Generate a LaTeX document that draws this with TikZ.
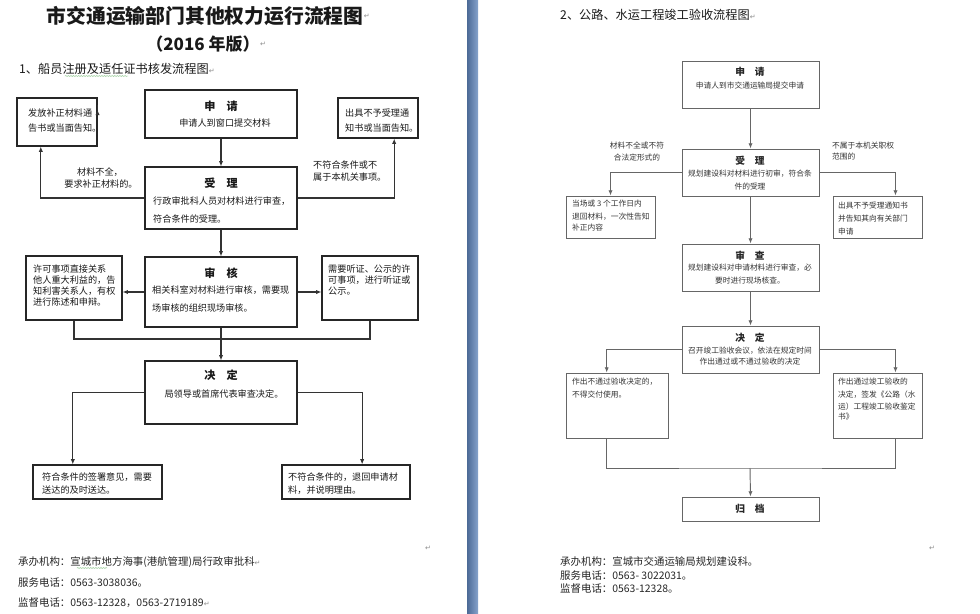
\documentclass[tikz,border=0pt]{standalone}
\usepackage{fontspec}
\setmainfont{Noto Sans CJK SC}
\newfontfamily\symf{DejaVu Sans}
\usetikzlibrary{arrows.meta,fit,calc,decorations.pathmorphing}
\definecolor{barA}{HTML}{4C6A96}
\definecolor{barB}{HTML}{86A3CC}
\definecolor{squig}{HTML}{7FBF7F}
\newcommand{\pmark}{{\symf\fontsize{6}{6}\selectfont\color{black!45}↵}}
\begin{document}
\begin{tikzpicture}[x=0.03cm,y=-0.03cm,
  boxL/.style={draw=black!85, line width=0.9pt, inner sep=0pt},
  boxR/.style={draw=black!60, line width=0.8pt, inner sep=0pt},
  lnL/.style={draw=black!80, line width=0.9pt},
  lnR/.style={draw=black!60, line width=0.8pt},
  arr/.style={-{Latex[length=4.5pt,width=3.6pt]}},
  tx/.style={inner sep=0pt, text=black!90},
  fl/.style={tx, font=\fontsize{7.8}{9}\selectfont},
  fr/.style={tx, font=\fontsize{6.6}{8}\selectfont, text=black!80},
  hl/.style={tx, font=\fontsize{9.5}{11}\selectfont\bfseries},
  hr/.style={tx, font=\fontsize{8.3}{10}\selectfont\bfseries, text=black!85},
  ft/.style={tx, font=\fontsize{8.9}{10}\selectfont, text=black!85},
  hd/.style={tx, font=\fontsize{10.4}{12}\selectfont},
  w/.style={anchor=west},
  squiggle/.style={draw=squig, line width=0.4pt, decorate, decoration={snake, amplitude=0.35pt, segment length=2.2pt}}
]
\useasboundingbox[fill=white] (0,0) rectangle (980,613);
\shade[left color=barA, right color=barB] (467,0) rectangle (478,613);

% ---------------- left page ----------------
\node[tx, font=\fontsize{16.9}{20}\selectfont\bfseries] (title) at (205,16) {市交通运输部门其他权力运行流程图};
\node[tx, anchor=west] (tmark) at (title.east) {\pmark};
\node[tx, font=\fontsize{14.5}{17}\selectfont\bfseries] (year) at (203,44) {（2016 年版）};
\node[tx, anchor=west] (ymark) at (year.east) {\pmark};
\node[hd, w] (h1) at (19,69) {1、船员注册及适任证书核发流程图\pmark};
\draw[squiggle] (65,76) -- (128,76);

\node[boxL, fit={(17,98)(97,146)}] (lfix) {};
\node[boxL, fit={(145,90)(297,138)}] (lapp) {};
\node[boxL, fit={(338,98)(418,138)}] (lrej) {};
\node[boxL, fit={(145,167)(297,229)}] (lacc) {};
\node[boxL, fit={(26,256)(122,320)}] (lnot) {};
\node[boxL, fit={(145,257)(297,327)}] (lrev) {};
\node[boxL, fit={(322,256)(418,320)}] (lhear) {};
\node[boxL, fit={(145,361)(297,424)}] (ldec) {};
\node[boxL, fit={(33,465)(162,499)}] (lyes) {};
\node[boxL, fit={(282,465)(410,499)}] (lno) {};

\node[fl, w] (t1) at (28,113) {发放补正材料通};
\node[fl, w] (t2) at (28,128) {告书或当面告知。};
\node[hl] (t3) at (221,106) {申　请};
\node[fl] (t4) at (225,123) {申请人到窗口提交材料};
\node[fl, w] (t5) at (345,113) {出具不予受理通};
\node[fl, w] (t6) at (345,128) {知书或当面告知。};
\node[fl] (t7) at (100,172) {材料不全，};
\node[fl] (t8) at (101,184) {要求补正材料的。};
\node[fl, w] (t9) at (313,165) {不符合条件或不};
\node[fl, w] (t10) at (313,177) {属于本机关事项。};
\node[hl] (t11) at (221,183) {受　理};
\node[fl, w] (t12) at (153,201) {行政审批科人员对材料进行审查，};
\node[fl, w] (t13) at (153,219) {符合条件的受理。};
\node[fl, w] (t14) at (33,269) {许可事项直接关系};
\node[fl, w] (t15) at (33,280) {他人重大利益的，告};
\node[fl, w] (t16) at (33,291) {知利害关系人，有权};
\node[fl, w] (t17) at (33,302) {进行陈述和申辩。};
\node[hl] (t18) at (221,273) {审　核};
\node[fl, w] (t19) at (152,290) {相关科室对材料进行审核，需要现};
\node[fl, w] (t20) at (152,308) {场审核的组织现场审核。};
\node[fl, w] (t21) at (328,269) {需要听证、公示的许};
\node[fl, w] (t22) at (328,280) {可事项，进行听证或};
\node[fl, w] (t23) at (328,291) {公示。};
\node[hl] (t24) at (221,375) {决　定};
\node[fl] (t25) at (224,394) {局领导或首席代表审查决定。};
\node[fl, w] (t26) at (42,477) {符合条件的签署意见，需要};
\node[fl, w] (t27) at (42,490) {送达的及时送达。};
\node[fl, w] (t28) at (288,477) {不符合条件的，退回申请材};
\node[fl, w] (t29) at (288,490) {料，并说明理由。};

\node[ft, w] (f1) at (18,562) {承办机构：宣城市地方海事(港航管理)局行政审批科\pmark};
\draw[squiggle] (77,568) -- (107,568);
\node[ft, w] (f2) at (18,583) {服务电话：0563-3038036。};
\node[ft, w] (f3) at (18,603) {监督电话：0563-12328，0563-2719189\pmark};
\node[tx] (m1) at (428,548) {\pmark};

\draw[lnL,arr] ($(lfix.north east)!0.25!(lfix.south east)$) -- ($(lfix.north east)!0.25!(lfix.south east)$ -| lapp.west);
\draw[lnL,arr] (lapp.south) -- (lacc.north);
\draw[lnL,arr] (lacc.west) -| ($(lfix.south west)!0.3!(lfix.south east)$);
\draw[lnL,arr] (lacc.east) -| ($(lrej.south west)!0.7!(lrej.south east)$);
\draw[lnL,arr] (lacc.south) -- (lrev.north);
\draw[lnL,arr] (lrev.west) -- (lrev.west -| lnot.east);
\draw[lnL,arr] (lrev.east) -- (lrev.east -| lhear.west);
\coordinate (lj) at (221,339);
\draw[lnL] (lnot.south) |- (lj) -| (lhear.south);
\draw[lnL,arr] (lrev.south) -- (ldec.north);
\draw[lnL,arr] (ldec.west) -| ($(lyes.north west)!0.31!(lyes.north east)$);
\draw[lnL,arr] (ldec.east) -| ($(lno.north west)!0.625!(lno.north east)$);

% ---------------- right page ----------------
\node[hd, w] (h2) at (560,15) {2、公路、水运工程竣工验收流程图\pmark};

\node[boxR, fit={(682,61)(819,108)}] (rapp) {};
\node[boxR, fit={(682,149)(819,196)}] (racc) {};
\node[boxR, fit={(566,196)(655,238)}] (rfix) {};
\node[boxR, fit={(833,196)(922,238)}] (rrej) {};
\node[boxR, fit={(682,244)(819,291)}] (rchk) {};
\node[boxR, fit={(682,326)(819,373)}] (rdec) {};
\node[boxR, fit={(566,373)(668,438)}] (rno) {};
\node[boxR, fit={(833,373)(922,438)}] (ryes) {};
\node[boxR, fit={(682,497)(819,521)}] (rarc) {};

\node[hr] (s1) at (750,72) {申　请};
\node[fr] (s2) at (750,86) {申请人到市交通运输局提交申请};
\node[hr] (s3) at (750,161) {受　理};
\node[fr] (s4) at (750,174) {规划建设科对材料进行初审，符合条};
\node[fr] (s5) at (750,187) {件的受理};
\node[fr] (s6) at (637,146) {材料不全或不符};
\node[fr] (s7) at (637,158) {合法定形式的};
\node[fr, w] (s8) at (832,146) {不属于本机关职权};
\node[fr, w] (s9) at (832,157) {范围的};
\node[fr, w] (s10) at (572,204) {当场或 3 个工作日内};
\node[fr, w] (s11) at (572,217) {退回材料，一次性告知};
\node[fr, w] (s12) at (572,228) {补正内容};
\node[fr, w] (s13) at (838,206) {出具不予受理通知书};
\node[fr, w] (s14) at (838,219) {并告知其向有关部门};
\node[fr, w] (s15) at (838,232) {申请};
\node[hr] (s16) at (750,256) {审　查};
\node[fr] (s17) at (750,268) {规划建设科对申请材料进行审查，必};
\node[fr] (s18) at (750,281) {要时进行现场核查。};
\node[hr] (s19) at (750,338) {决　定};
\node[fr] (s20) at (750,351) {召开竣工验收会议，依法在规定时间};
\node[fr] (s21) at (750,362) {作出通过或不通过验收的决定};
\node[fr, w] (s22) at (572,382) {作出不通过验收决定的，};
\node[fr, w] (s23) at (572,395) {不得交付使用。};
\node[fr, w] (s24) at (838,382) {作出通过竣工验收的};
\node[fr, w] (s25) at (838,395) {决定，签发《公路（水};
\node[fr, w] (s26) at (838,407) {运）工程竣工验收鉴定};
\node[fr, w] (s27) at (838,417) {书》};
\node[hr] (s28) at (750,509) {归　档};

\node[ft, w] (g1) at (560,562) {承办机构：宣城市交通运输局规划建设科。};
\node[ft, w] (g2) at (560,576) {服务电话：0563- 3022031。};
\node[ft, w] (g3) at (560,589) {监督电话：0563-12328。};
\node[tx] (m2) at (932,548) {\pmark};

\draw[lnR,arr] (rapp.south) -- (racc.north);
\draw[lnR,arr] (racc.west) -| (rfix.north);
\draw[lnR,arr] (racc.east) -| ($(rrej.north west)!0.7!(rrej.north east)$);
\draw[lnR,arr] (racc.south) -- (rchk.north);
\draw[lnR,arr] (rchk.south) -- (rdec.north);
\draw[lnR,arr] (rdec.west) -| ($(rno.north west)!0.4!(rno.north east)$);
\draw[lnR,arr] (rdec.east) -| ($(ryes.north west)!0.7!(ryes.north east)$);
\coordinate (rj) at (750,468);
\draw[lnR] ($(rno.south west)!0.4!(rno.south east)$) |- (rj) -| ($(ryes.south west)!0.7!(ryes.south east)$);
\draw[lnR,arr] (rj) -- (rarc.north);
\end{tikzpicture}
\end{document}
